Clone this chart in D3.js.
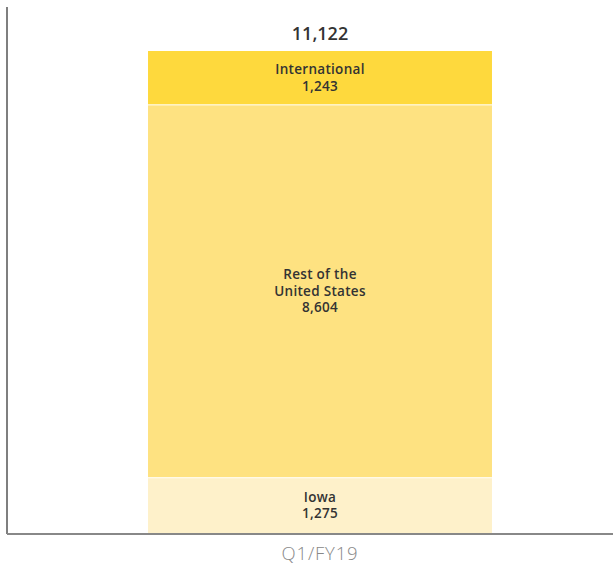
<!DOCTYPE html>
<html>
<head>
<meta charset="utf-8">
<script src="https://cdn.jsdelivr.net/npm/d3@7"></script>
<style>
  body { margin: 0; background: #fff; }
  svg text { font-family: "Open Sans", "DejaVu Sans", sans-serif; }
</style>
</head>
<body>
<div id="chart"></div>
<script>
// single stacked column, bottom segment first
var categories = ["Q1/FY19"];
var segments = ["Iowa", "Rest of the United States", "International"];
var segmentLines = [["Iowa"], ["Rest of the", "United States"], ["International"]];
var values = [1275, 8604, 1243];
var total = 11122;
var colors = ["#fef1ca", "#fee281", "#fed93d"];

var width = 613, height = 566;
// plot area runs a little past the right edge of the window
var plot = {left: 7, right: 633, top: 7, bottom: 534};

var svg = d3.select("#chart").append("svg")
    .attr("width", width)
    .attr("height", height);

var x = d3.scaleBand()
    .domain(categories)
    .range([plot.left, plot.right])
    .paddingInner(0)
    .paddingOuter(0.41);

var y = d3.scaleLinear()
    .domain([0, total])
    .range([533, 51]);

// build stack data
var stackRow = {};
segments.forEach(function(s, i) { stackRow[s] = values[i]; });
var stacked = d3.stack().keys(segments)([stackRow]);

var fmt = d3.format(",");

var bars = svg.append("g");
stacked.forEach(function(layer, i) {
    var d = layer[0];
    bars.append("rect")
        .attr("x", x(categories[0]))
        .attr("width", x.bandwidth())
        .attr("y", y(d[1]))
        .attr("height", y(d[0]) - y(d[1]))
        .style("fill", colors[i]);
});

// thin white separators between segments
stacked.forEach(function(layer, i) {
    if (i === 0) return;
    var d = layer[0];
    svg.append("line")
        .attr("x1", x(categories[0]))
        .attr("x2", x(categories[0]) + x.bandwidth())
        .attr("y1", y(d[0]))
        .attr("y2", y(d[0]))
        .style("stroke", "#fff")
        .style("stroke-width", 1);
});

// segment labels
var lh = 16.5;
stacked.forEach(function(layer, i) {
    var d = layer[0];
    var lines = segmentLines[i].concat([fmt(values[i])]);
    var cy = (y(d[0]) + y(d[1])) / 2;
    var t = svg.append("text")
        .attr("text-anchor", "middle")
        .style("font-size", "13.5px")
        .style("font-weight", 600)
        .style("letter-spacing", "0.3px")
        .style("fill", "#333");
    lines.forEach(function(line, j) {
        t.append("tspan")
            .attr("x", x(categories[0]) + x.bandwidth() / 2)
            .attr("y", cy + (j - (lines.length - 1) / 2) * lh + 4.5)
            .text(line);
    });
});

// total on top
svg.append("text")
    .attr("x", x(categories[0]) + x.bandwidth() / 2)
    .attr("y", y(total) - 11)
    .attr("text-anchor", "middle")
    .style("font-size", "18px")
    .style("font-weight", 600)
    .style("fill", "#333")
    .text(fmt(total));

// axes
svg.append("line")
    .attr("x1", plot.left).attr("x2", plot.left)
    .attr("y1", plot.top).attr("y2", plot.bottom)
    .style("stroke", "#555")
    .style("stroke-width", 1.5);

var xAxis = svg.append("g")
    .attr("transform", "translate(0," + plot.bottom + ")")
    .call(d3.axisBottom(x).tickSize(0).tickPadding(13));
xAxis.select(".domain")
    .attr("d", "M" + plot.left + ",0H" + width)
    .style("stroke", "#888")
    .style("stroke-width", 2);
xAxis.selectAll(".tick text")
    .style("font-family", "\"Open Sans\", sans-serif")
    .style("font-size", "18.5px")
    .style("font-weight", 300)
    .style("letter-spacing", "0.8px")
    .style("fill", "#888");
</script>
</body>
</html>
